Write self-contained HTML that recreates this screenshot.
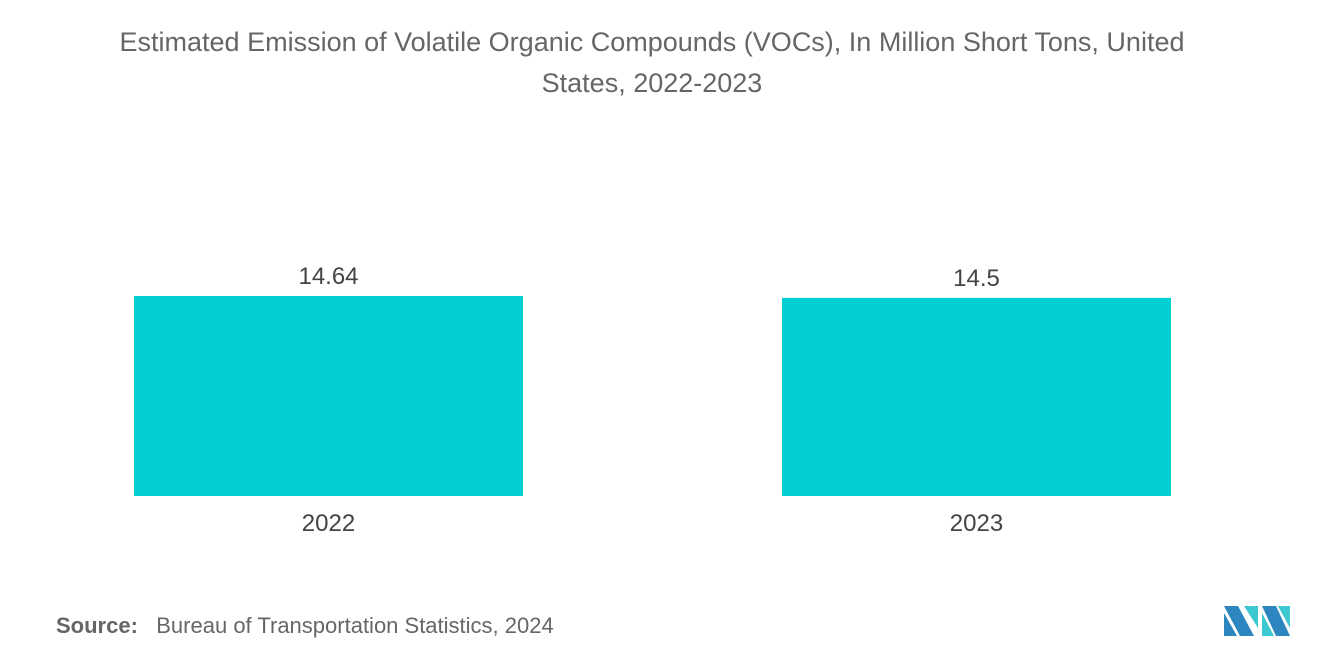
<!DOCTYPE html>
<html><head><meta charset="utf-8"><style>
body{margin:0;width:1320px;height:665px;background:#fff;font-family:"Liberation Sans",sans-serif;overflow:hidden;position:relative}
.t{position:absolute;left:0;width:1304px;text-align:center;top:22px;font-size:27px;line-height:41px;color:#666}
.src{position:absolute;left:56px;top:613px;font-size:22px;color:#666}
</style></head><body>
<div class="t">Estimated Emission of Volatile Organic Compounds (VOCs), In Million Short Tons, United<br>States, 2022-2023</div>
<svg id="c" width="1320" height="665" style="position:absolute;left:0;top:0"></svg>
<div class="src"><b style="color:#666">Source:</b>&nbsp;&nbsp; Bureau of Transportation Statistics, 2024</div>
<svg width="70" height="36" style="position:absolute;left:1222px;top:603px">
<polygon points="2,3 16,3 32,33 18,33" fill="#2e86c1"/>
<polygon points="2,10 15,33 2,33" fill="#2e86c1"/>
<polygon points="22,3 36,3 36,25" fill="#3cc8d0"/>
<polygon points="40,3 54,3 68,33 54,33" fill="#2e86c1"/>
<polygon points="40,10 52,33 40,33" fill="#3cc8d0"/>
<polygon points="56,3 68,3 68,25" fill="#3cc8d0"/>
</svg>
<script>
const categories=["2022","2023"];
const values=[14.64,14.5];
const labels=["14.64","14.5"];
const svg=document.getElementById('c');
const NS='http://www.w3.org/2000/svg';
const base=496, scale=200/14.64;
const y=v=>base-v*scale;
const x=i=>134+i*648;
const bw=389;
categories.forEach((c,i)=>{
 const r=document.createElementNS(NS,'rect');
 
 
 r.setAttribute('x',x(i));r.setAttribute('y',y(values[i]));
 r.setAttribute('width',bw);r.setAttribute('height',base-y(values[i]));
 r.setAttribute('fill','#00ced1');svg.appendChild(r);
 const v=document.createElementNS(NS,'text');
 
 
 v.setAttribute('x',x(i)+bw/2);v.setAttribute('y',y(values[i])-12);
 v.setAttribute('text-anchor','middle');v.setAttribute('font-size','24');v.setAttribute('fill','#444');
 v.textContent=labels[i];svg.appendChild(v);
 const t=document.createElementNS(NS,'text');
 
 
 t.setAttribute('x',x(i)+bw/2);t.setAttribute('y',531);
 t.setAttribute('text-anchor','middle');t.setAttribute('font-size','24');t.setAttribute('fill','#444');
 t.textContent=c;svg.appendChild(t);
});
</script>
</body></html>
